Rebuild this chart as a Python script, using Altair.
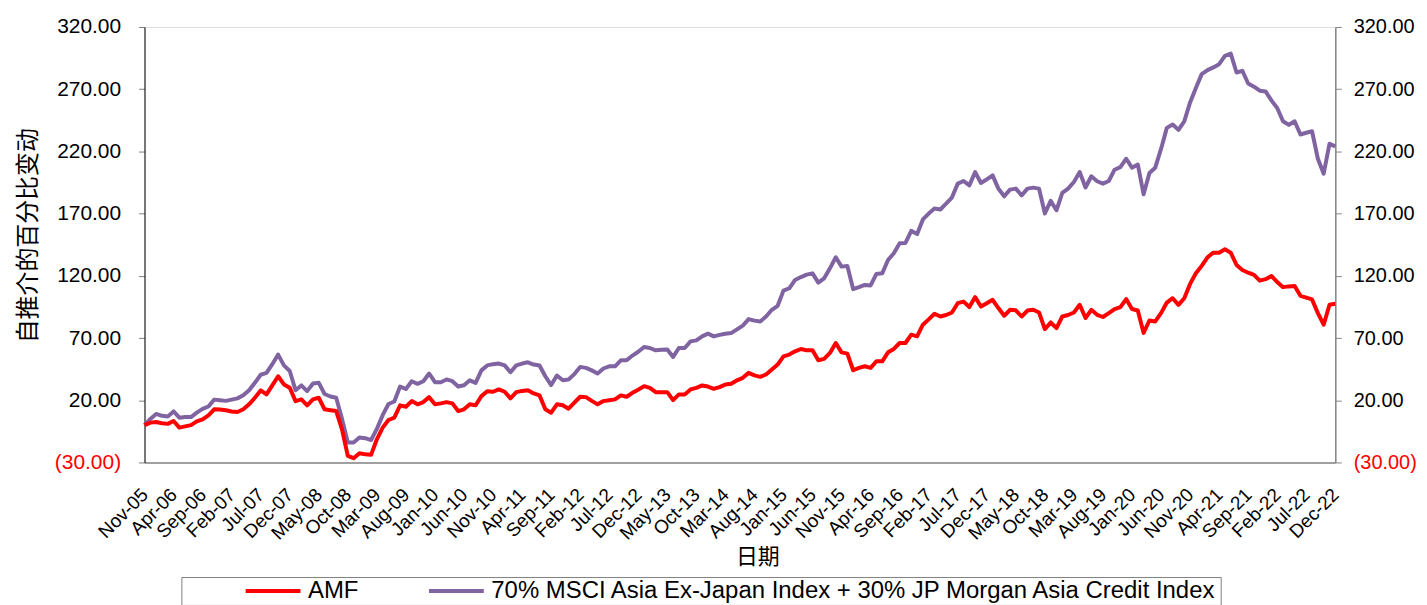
import altair as alt
import pandas as pd

months = pd.date_range("2005-11-01", periods=206, freq="MS").strftime("%b-%y").tolist()
tick_labels = months[::5]
y_ticks = [-30, 20, 70, 120, 170, 220, 270, 320]
series_names = ["AMF", "70% MSCI Asia Ex-Japan Index + 30% JP Morgan Asia Credit Index"]
series_colors = ["#FF0000", "#8064A2"]

amf = [
    0, 2, 2.5, 1.5, 1, 3.3, -2, -1, 0, 3,
    4.7, 7.9, 12.7, 12.5, 12, 11, 10.5, 12.7, 16.7, 22,
    27.9, 24.7, 32, 39.3, 32.7, 30, 19.3, 20.7, 15.9, 20.7,
    22, 12.7, 12, 11.3, -3.4, -24.7, -26.6, -22.6, -23.5, -23.9,
    -11.4, -2, 4.1, 6, 15.9, 14.8, 19.3, 16.7, 18.5, 22.5,
    16.7, 17.5, 18.5, 17.5, 11.3, 12.7, 16.7, 16, 23.3, 27.3,
    26.8, 28.7, 26.8, 21.5, 26.5, 27.5, 28.1, 25.5, 23.9, 12.7,
    10, 16.7, 16, 13.2, 18, 22.8, 22.5, 19.5, 16.7, 19.3,
    20, 20.7, 23.9, 22.8, 26, 28.5, 31.3, 30, 26.5, 26.5,
    26.5, 20.1, 24.7, 24.7, 28.7, 30, 31.9, 31, 29.2, 30.5,
    32.7, 33.2, 36, 38, 42, 40, 38.8, 40.7, 44.7, 48.7,
    55.3, 56.7, 59.3, 61.2, 60.1, 60.1, 52.1, 53.2, 58, 66,
    58.5, 57.5, 44.1, 46, 47.3, 46, 51.3, 51.3, 58.5, 61.2,
    66, 66, 72.7, 71.3, 80.7, 85, 89.5, 87.3, 88.5, 90.5,
    98, 99.3, 94.9, 102.9, 95.3, 98, 100.7, 94.1, 87.9, 92.7,
    92.3, 87.3, 92.1, 92.7, 90.5, 77.2, 82.5, 78, 87.3, 88.5,
    90.5, 96.7, 86.1, 92.7, 88.7, 86.9, 90, 93.3, 94.9, 101.3,
    93.3, 92.1, 74.1, 84.1, 83.3, 90, 98.5, 102, 96.7, 102,
    113.5, 122, 128, 134.9, 138.6, 138.6, 141.3, 138.6, 128.7, 124.7,
    122.5, 120.7, 116.1, 117.3, 119.9, 115, 110.9, 111.5, 111.9, 103.9,
    102.5, 101, 90, 80.7, 96.7, 97.5,
]

bench = [
    0, 5, 9, 7.5, 7, 11, 6, 6.5, 6.5, 10,
    13, 15, 20.5, 20, 19.5, 20.5, 21.5, 24, 28, 34,
    40.5, 42, 49, 56.7, 48, 43.5, 28, 31.9, 27.3, 33.5,
    34, 25, 23, 22, 5, -14, -14, -10, -10.5, -12,
    -3, 8, 17, 19, 31, 29, 35.3, 33.2, 35.3, 41.5,
    34.5, 34.5, 36.7, 35.3, 31, 32, 36, 34, 44, 48,
    49, 49.5, 48, 42.5, 48, 49.5, 50.5, 48.7, 47.9, 39.3,
    32.2, 39.9, 36.1, 36.7, 41, 46.8, 46, 44, 41.5, 45.5,
    47.3, 47.3, 52.1, 52.1, 55.9, 59, 62.8, 62, 60.1, 60.5,
    60.7, 54.8, 62, 62, 67.3, 68.1, 71.3, 73.5, 71.3, 72.5,
    73.5, 74, 77, 80, 85.2, 84, 83.3, 87.3, 92.7, 95.9,
    108.1, 110, 116.7, 119, 121, 122, 114.5, 118, 126, 134.9,
    127.4, 127.9, 109.3, 110.9, 112.7, 112.3, 121.5, 122, 132.7, 138.1,
    146.1, 146.4, 156.2, 153.5, 165.3, 170, 174.1, 173.3, 178, 182.9,
    194.1, 196.2, 192.7, 203.4, 194.6, 197.5, 200.7, 190.1, 183.9, 189.3,
    190.1, 184.7, 190.1, 190.9, 190.1, 170.1, 180.2, 172.7, 186.6, 190.1,
    195.4, 203.4, 191, 200, 196, 194.1, 196.2, 205.3, 207.4, 214.1,
    206.9, 209.5, 185.5, 202.6, 206.9, 222, 238.9, 241.6, 237.3, 244.2,
    259.4, 271, 282.1, 285.3, 287.5, 290.1, 296.8, 298.6, 283.4, 284.8,
    274.6, 272, 268.8, 268.2, 261, 254.9, 244.2, 241.3, 244.2, 233.6,
    235, 236.2, 214.1, 202.1, 226.1, 224,
]

df = pd.DataFrame({
    "month": months + months,
    "value": bench + amf,
    "series": [series_names[1]] * len(bench) + [series_names[0]] * len(amf),
})

FONT = "Liberation Sans"
CJK = "Noto Sans CJK SC"
label_expr = "datum.value < 0 ? '(' + format(-datum.value, '.2f') + ')' : format(datum.value, '.2f')"
label_color = {"condition": {"test": "datum.value < 0", "value": "#FF0000"}, "value": "#000000"}

x_enc = alt.X(
    "month:N",
    sort=months,
    scale=alt.Scale(type="point", padding=0),
    axis=alt.Axis(
        values=tick_labels,
        labelAngle=-45,
        labelAlign="right",
        labelBaseline="middle",
        labelOverlap=False,
        labelFont=FONT,
        labelFontSize=19,
        labelColor="#000000",
        labelPadding=29,
        ticks=False,
        tickSize=0,
        domainColor="#868686",
        domainWidth=1.5,
        title="日期",
        titleFont=CJK,
        titleFontSize=22,
        titleFontWeight="normal",
        titleColor="#000000",
        titleX=615,
        titleY=94,
        titleAlign="center",
        titleBaseline="middle",
        grid=False,
    ),
)

y_scale = alt.Scale(domain=[-30, 320], nice=False, zero=False)

lines = alt.Chart(df).mark_line(strokeWidth=4, strokeJoin="round").encode(
    x=x_enc,
    y=alt.Y(
        "value:Q",
        scale=y_scale,
        axis=alt.Axis(
            orient="left",
            values=y_ticks,
            labelExpr=label_expr,
            labelColor=label_color,
            labelFont=FONT,
            labelFontSize=21,
            labelPadding=18,
            tickSize=6,
            tickColor="#808080",
            domainColor="#000000",
            grid=False,
            title="自推介的百分比变动",
            titleFont=CJK,
            titleFontSize=24,
            titleFontWeight="normal",
            titleColor="#000000",
            titleX=-116,
            titleY=209,
            titleAngle=-90,
            titleAlign="center",
            titleBaseline="middle",
        ),
    ),
    color=alt.Color(
        "series:N",
        scale=alt.Scale(domain=series_names, range=series_colors),
        legend=alt.Legend(
            orient="none",
            legendX=37,
            legendY=552,
            direction="horizontal",
            title=" ",
            titleOrient="left",
            titlePadding=78,
            titleFontSize=1,
            symbolType="M-2.75,0L2.75,0",
            symbolSize=400,
            symbolStrokeWidth=4,
            labelFont=FONT,
            labelFontSize=24,
            labelColor="#000000",
            labelOffset=23,
            columnPadding=62,
            padding=2,
            strokeColor="#808080",
            fillColor="#FFFFFF",
            labelLimit=1000,
        ),
    ),
    order=alt.Order("series:N", sort="ascending"),
)

right_axis = alt.Chart(df).mark_line(strokeOpacity=0).encode(
    x=x_enc,
    y=alt.Y(
        "value:Q",
        scale=y_scale,
        axis=alt.Axis(
            orient="right",
            values=y_ticks,
            labelExpr=label_expr,
            labelColor=label_color,
            labelFont=FONT,
            labelFontSize=20,
            labelPadding=12,
            tickSize=6,
            tickColor="#868686",
            domainColor="#868686",
            domainWidth=1.5,
            grid=False,
            title=None,
        ),
    ),
    detail="series:N",
)

chart = alt.layer(lines, right_axis).resolve_scale(y="independent").properties(
    width=1195,
    height=437,
    autosize=alt.AutoSizeParams(type="none"),
    padding={"left": 137, "top": 18, "right": 84, "bottom": 142},
).configure_view(strokeWidth=0).configure(background="#FFFFFF")

chart.save("out.html", embed_options={"renderer": "svg", "actions": False})
